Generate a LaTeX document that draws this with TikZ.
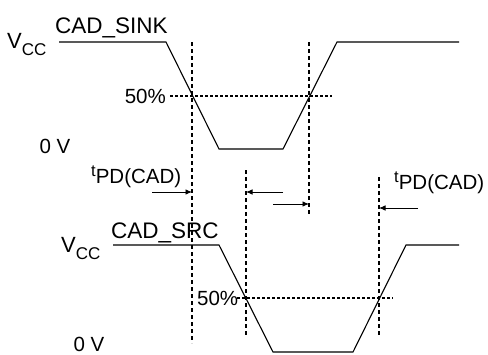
\documentclass[tikz,border=0pt]{standalone}
\usepackage{fontspec}
\setmainfont{Liberation Sans}
\usetikzlibrary{arrows.meta}

\newcommand{\vcc}{{\fontsize{22}{22}\selectfont V}\raisebox{-7pt}{\fontsize{17}{17}\selectfont CC}}
\newcommand{\tpd}{\raisebox{7pt}{\fontsize{16.5}{16.5}\selectfont t}PD(CAD)}

\begin{document}
\begin{tikzpicture}[x=1pt, y=-1pt,
    wave/.style={line width=1.1pt},
    marker/.style={dash pattern=on 4pt off 3pt, line width=1.5pt},
    level/.style={dash pattern=on 3pt off 2pt, line width=1.3pt},
    lbl/.style={inner sep=0pt, font=\fontsize{20.5}{20.5}\selectfont},
    sig/.style={inner sep=0pt, font=\fontsize{22.5}{22.5}\selectfont},
    tick/.style={-{Latex[length=6.5pt,width=5.5pt]}, line width=0.9pt}]
    \useasboundingbox (0,0) rectangle (488,354);

    % CAD_SINK waveform
    \coordinate (s1) at (59,42);
    \coordinate (s2) at (166,42);
    \coordinate (s3) at (219,149);
    \coordinate (s4) at (283,149);
    \coordinate (s5) at (337,42);
    \coordinate (s6) at (459,42);
    \draw[wave] (s1) -- (s2) -- (s3) -- (s4) -- (s5) -- (s6);

    % CAD_SRC waveform
    \coordinate (r1) at (113,245);
    \coordinate (r2) at (219,245);
    \coordinate (r3) at (273,352);
    \coordinate (r4) at (353,352);
    \coordinate (r5) at (406,245);
    \coordinate (r6) at (459,245);
    \draw[wave] (r1) -- (r2) -- (r3) -- (r4) -- (r5) -- (r6);

    % marker lines
    \coordinate (m1t) at (192,42);  \coordinate (m1b) at (192,343);
    \coordinate (m2t) at (309,42);  \coordinate (m2b) at (309,215);
    \coordinate (m3t) at (246,170); \coordinate (m3b) at (246,337);
    \coordinate (m4t) at (379,177); \coordinate (m4b) at (379,337);
    \coordinate (h1l) at (170,96);  \coordinate (h1r) at (332,96);
    \coordinate (h2l) at (237,298); \coordinate (h2r) at (393,298);
    \draw[marker] (m1t) -- (m1b);
    \draw[marker] (m2t) -- (m2b);
    \draw[marker] (m3t) -- (m3b);
    \draw[marker] (m4t) -- (m4b);
    \draw[level] (h1l) -- (h1r);
    \draw[level] (h2l) -- (h2r);

    % labels
    \node[lbl, anchor=base west] (vcc1) at (7,48) {\vcc};
    \node[sig, anchor=base west] (sink) at (55,33) {CAD\_SINK};
    \node[lbl, anchor=base east] (half1) at (166,103) {50\%};
    \node[lbl] (zero1) at (55,146) {0 V};
    \node[lbl, anchor=base west] (vcc2) at (61,252) {\vcc};
    \node[sig, anchor=base west] (src) at (111,238) {CAD\_SRC};
    \node[lbl, anchor=base west] (half2) at (197,305) {50\%};
    \node[lbl] (zero2) at (89,344) {0 V};
    \node[lbl, anchor=base west] (tpd1) at (91,183) {\tpd};
    \node[lbl, anchor=base west] (tpd2) at (394,189) {\tpd};

    % delay arrows
    \coordinate (a1) at (152,192); \coordinate (a1e) at (192,192);
    \coordinate (a2) at (283,192); \coordinate (a2e) at (246,192);
    \coordinate (a3) at (273,204); \coordinate (a3e) at (309,204);
    \coordinate (a4) at (418,208); \coordinate (a4e) at (379,208);
    \path[tick]
        (a1) edge (a1e)
        (a2) edge (a2e)
        (a3) edge (a3e)
        (a4) edge (a4e)
    ;
\end{tikzpicture}
\end{document}
